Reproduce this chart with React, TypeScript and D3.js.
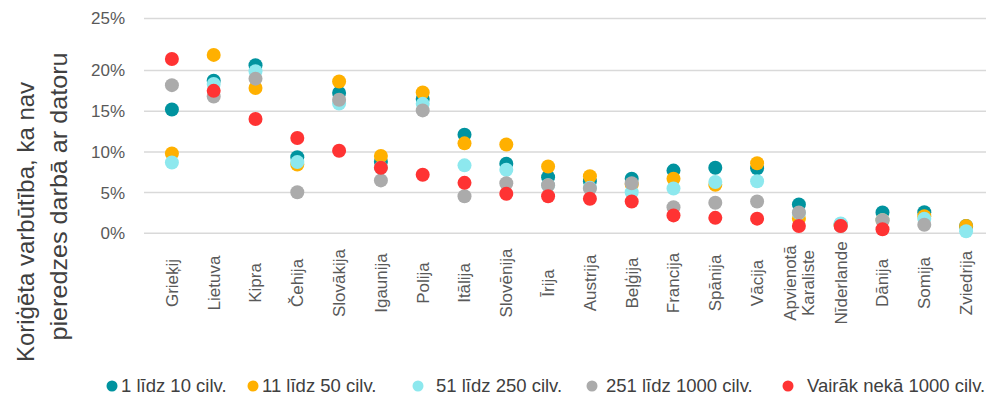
import React from "react";
import * as d3 from "d3";

const countries = ["Grieķij","Lietuva","Kipra","Čehija","Slovākija","Igaunija","Polija","Itālija","Slovēnija","Īrija","Austrija","Beļģija","Francija","Spānija","Vācija","Apvienotā\nKaraliste","Nīderlande","Dānija","Somija","Zviedrija"];

const s1to10: (number | null)[] = [15.2, 18.75, 20.5, 9.35, 17.25, 8.8, 16.5, 12.1, 8.55, 6.9, 6.4, 6.7, 7.7, 8.05, 8.0, 3.55, 1.1, 2.55, 2.6, 0.9];
const s11to50: (number | null)[] = [9.8, 21.5, 17.85, 8.45, 18.65, 9.5, 17.3, 11.05, 10.9, 8.2, 7.0, 6.0, 6.7, 5.95, 8.6, 1.8, 1.0, 1.6, 2.1, 0.9];
const s51to250: (number | null)[] = [8.7, 18.35, 19.9, 8.75, 15.95, 8.05, 15.9, 8.35, 7.8, 5.9, 5.6, 5.05, 5.5, 6.3, 6.4, 2.5, 1.2, 1.6, 1.8, 0.25];
const s251to1000: (number | null)[] = [18.2, 16.8, 19.0, 5.05, 16.4, 6.5, 15.1, 4.55, 6.15, 5.9, 5.5, 6.15, 3.2, 3.75, 3.9, 2.55, 0.9, 1.6, 1.05, null];
const sOver1000: (number | null)[] = [21.1, 17.5, 14.05, 11.7, 10.15, 8.05, 7.2, 6.2, 4.85, 4.55, 4.25, 3.9, 2.2, 1.9, 1.8, 0.9, 0.9, 0.5, null, null];

const seriesNames = ["1 līdz 10 cilv.", "11 līdz 50 cilv.", "51 līdz 250 cilv.", "251 līdz 1000 cilv.", "Vairāk nekā 1000 cilv."];
const seriesValues = [s1to10, s11to50, s51to250, s251to1000, sOver1000];
const colors = ["#00939F", "#FFB000", "#8DE8EE", "#ABABAB", "#FF3333"];

const yTicks = [0, 5, 10, 15, 20, 25];
const yTitle = ["Koriģēta varbūtība, ka nav", "pieredzes darbā ar datoru"];

const W = 993, H = 396;
const font = "'Liberation Sans', Arial, sans-serif";

export default function App() {
  const x = d3.scaleBand<string>().domain(countries).range([151, 987]);
  const y = d3.scaleLinear().domain([0, 20, 25]).range([233.3, 70.5, 18.5]);
  const cx = (c: string) => (x(c) as number) + x.bandwidth() / 2;

  const legendMarkX = [112, 253, 418, 592, 788];
  const legendTextX = [121, 262, 436, 606, 807];

  return (
    <svg width={W} height={H} style={{ position: "absolute", left: 0, top: 0, background: "#fff" }} fontFamily={font}>
      {yTicks.map((t) => (
        <g key={t}>
          <line x1={144} x2={986} y1={y(t)} y2={y(t)} stroke="#D9D9D9" strokeWidth={1.5} />
          <text x={125} y={y(t)} dy="0.35em" textAnchor="end" fontSize={17} fill="#595959">{t}%</text>
        </g>
      ))}
      <text transform={`translate(34,222) rotate(-90)`} textAnchor="middle" fontSize={24} fill="#404040">{yTitle[0]}</text>
      <text transform={`translate(67,196.5) rotate(-90)`} textAnchor="middle" fontSize={24} textLength={288} lengthAdjust="spacingAndGlyphs" fill="#404040">{yTitle[1]}</text>
      {countries.map((c) => {
        const lines = c.split("\n");
        const lh = 18;
        return (
          <g key={c} transform={`translate(${cx(c)},283) rotate(-90)`}>
            {lines.map((l, i) => (
              <text key={i} x={0} y={(i - (lines.length - 1) / 2) * lh} dy="0.35em" textAnchor="middle" fontSize={17} fill="#595959">{l}</text>
            ))}
          </g>
        );
      })}
      {seriesValues.map((vals, si) => (
        <g key={si}>
          {vals.map((v, i) => v == null ? null : (
            <circle key={i} cx={cx(countries[i])} cy={y(v)} r={7} fill={colors[si]} />
          ))}
        </g>
      ))}
      {seriesNames.map((n, i) => (
        <g key={n}>
          <circle cx={legendMarkX[i]} cy={386} r={5.5} fill={colors[i]} />
          <text x={legendTextX[i]} y={386} dy="0.35em" fontSize={18.5} fill="#404040">{n}</text>
        </g>
      ))}
    </svg>
  );
}
